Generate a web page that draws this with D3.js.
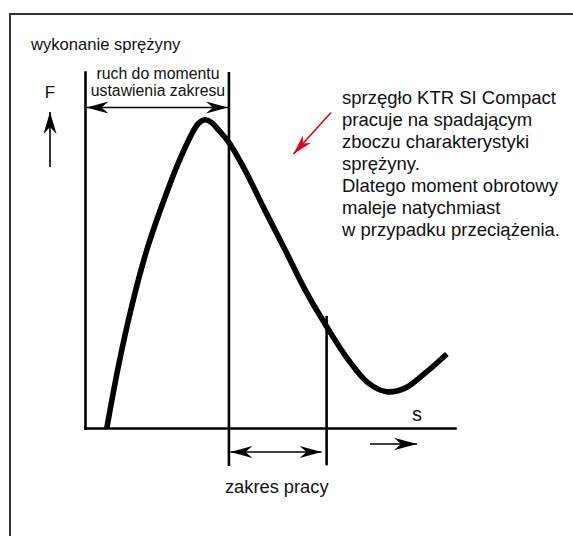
<!DOCTYPE html>
<html>
<head>
<meta charset="utf-8">
<script src="https://cdn.jsdelivr.net/npm/d3@7"></script>
<style>
  html, body { margin: 0; padding: 0; background: #fff; }
  svg { display: block; }
  text { font-family: "Liberation Sans", Arial, sans-serif; fill: #111; }
</style>
</head>
<body>
<svg id="chart" width="573" height="536"></svg>
<script>
// Spring characteristic: travel s vs. force F (relative units)
const travel = [0.59, 0.90, 1.26, 1.67, 2.07, 2.52, 2.88, 3.06, 3.24, 3.42, 3.60, 3.87, 4.32, 4.86, 5.41, 5.95, 6.53, 7.12, 7.66, 8.15, 8.65, 9.19, 9.78];
const force  = [0.00, 1.72, 3.41, 5.00, 6.22, 7.44, 8.25, 8.55, 8.66, 8.58, 8.38, 8.05, 7.25, 6.12, 5.00, 3.88, 2.85, 1.91, 1.26, 1.02, 1.12, 1.54, 2.08];

// Travel positions of the setting limit and the end of the working range
const settingLimit = 3.89;
const workingEnd = 6.53;

const panelTitle = "wykonanie sprężyny";
const settingLabel = ["ruch do momentu", "ustawienia zakresu"];
const workingLabel = "zakres pracy";
const forceLabel = "F";
const travelLabel = "s";
const noteLines = [
  "sprzęgło KTR SI Compact",
  "pracuje na spadającym",
  "zboczu charakterystyki",
  "sprężyny.",
  "Dlatego moment obrotowy",
  "maleje natychmiast",
  "w przypadku przeciążenia."
];

const svg = d3.select("#chart");

// Frame around the drawing
svg.append("path")
  .attr("d", "M10,540 V14 H580")
  .attr("fill", "none")
  .attr("stroke", "#333")
  .attr("stroke-width", 2);

svg.append("text")
  .attr("x", 31).attr("y", 50)
  .attr("font-size", 16.6)
  .text(panelTitle);

const x = d3.scaleLinear().domain([0, 10]).range([85, 455]);
const y = d3.scaleLinear().domain([0, 10]).range([428, 72]);

// Axes as plain lines (no ticks)
const xAxis = svg.append("g")
  .attr("transform", `translate(0,${y(0)})`)
  .call(d3.axisBottom(x).tickValues([]).tickSizeOuter(0));
const yAxis = svg.append("g")
  .attr("transform", `translate(${x(0)},0)`)
  .call(d3.axisLeft(y).tickValues([]).tickSizeOuter(0));
[xAxis, yAxis].forEach(a => a.select(".domain")
  .attr("stroke", "#000")
  .attr("stroke-width", 2.6)
  .attr("stroke-linecap", "square"));

// Vertical markers
svg.append("line")
  .attr("x1", x(settingLimit)).attr("x2", x(settingLimit))
  .attr("y1", y(10)).attr("y2", y(-1.07))
  .attr("stroke", "#000").attr("stroke-width", 2.6);
svg.append("line")
  .attr("x1", x(workingEnd)).attr("x2", x(workingEnd))
  .attr("y1", y(3.15)).attr("y2", y(-1.05))
  .attr("stroke", "#000").attr("stroke-width", 2.6);

// Characteristic curve
const pts = travel.map((s, i) => [s, force[i]]);
svg.append("path")
  .datum(pts)
  .attr("d", d3.line().x(d => x(d[0])).y(d => y(d[1])).curve(d3.curveCatmullRom.alpha(0.5)))
  .attr("fill", "none")
  .attr("stroke", "#000")
  .attr("stroke-width", 5.6)
  .attr("stroke-linecap", "butt");

// Arrow helpers
function head(x0, y0, angleDeg, color, len = 22, notch = 15, w = 12) {
  svg.append("path")
    .attr("d", `M0,0 L${-len},${-w / 2} L${-notch},0 L${-len},${w / 2} Z`)
    .attr("transform", `translate(${x0},${y0}) rotate(${angleDeg})`)
    .attr("fill", color);
}
function arrow(x1, y1, x2, y2, opts = {}) {
  const color = opts.color || "#000";
  const sw = opts.width || 1.6;
  const ang = Math.atan2(y2 - y1, x2 - x1) * 180 / Math.PI;
  svg.append("line")
    .attr("x1", x1).attr("y1", y1).attr("x2", x2).attr("y2", y2)
    .attr("stroke", color).attr("stroke-width", sw);
  head(x2, y2, ang, color, opts.len, opts.notch, opts.w);
  if (opts.both) head(x1, y1, ang + 180, color, opts.len, opts.notch, opts.w);
}

// Setting travel span
arrow(x(0) + 1.5, 107.5, x(settingLimit) - 1, 107.5, { both: true });
svg.append("text")
  .attr("x", (x(0) + x(settingLimit)) / 2 + 1).attr("y", 79)
  .attr("text-anchor", "middle").attr("font-size", 15.8)
  .text(settingLabel[0]);
svg.append("text")
  .attr("x", (x(0) + x(settingLimit)) / 2 + 1).attr("y", 96)
  .attr("text-anchor", "middle").attr("font-size", 15.8)
  .text(settingLabel[1]);

// Working range span
arrow(x(settingLimit) + 1.5, 452, x(workingEnd) - 5, 452, { both: true });
svg.append("text")
  .attr("x", (x(settingLimit) + x(workingEnd)) / 2 - 1).attr("y", 493)
  .attr("text-anchor", "middle").attr("font-size", 18.3)
  .text(workingLabel);

// Axis direction arrows and labels
arrow(50, 167, 50, 112, { len: 22, notch: 15, w: 13 });
svg.append("text")
  .attr("x", 50).attr("y", 98)
  .attr("text-anchor", "middle").attr("font-size", 17)
  .text(forceLabel);

arrow(370, 444, 417, 444, { len: 23, notch: 16, w: 12.5 });
svg.append("text")
  .attr("x", 417).attr("y", 421)
  .attr("text-anchor", "middle").attr("font-size", 20)
  .text(travelLabel);

// Red pointer towards the falling slope
arrow(331, 112.5, 293.5, 154, { color: "#e3001b", width: 1.6, len: 20, notch: 14, w: 11 });

// Explanatory note
svg.append("g")
  .selectAll("text")
  .data(noteLines)
  .join("text")
  .attr("x", 342)
  .attr("y", (d, i) => 104.3 + i * 21.95)
  .attr("font-size", 18.5)
  .text(d => d);
</script>
</body>
</html>
